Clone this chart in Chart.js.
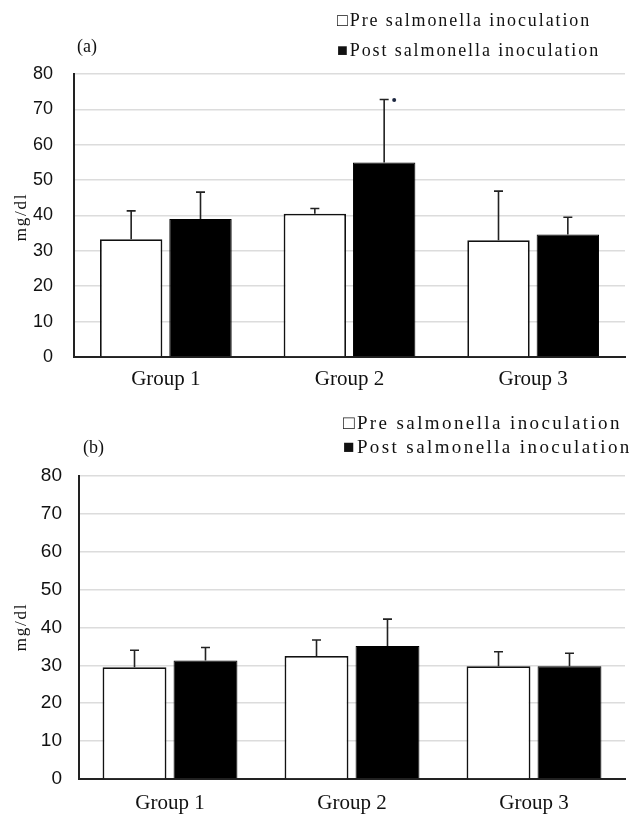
<!DOCTYPE html>
<html>
<head>
<meta charset="utf-8">
<script src="https://cdn.jsdelivr.net/npm/chart.js@4/dist/chart.umd.min.js"></script>
<style>
  html, body { margin: 0; padding: 0; background: #fff; }
  #wrap { position: relative; width: 641px; height: 815px; overflow: hidden; }
  canvas { position: absolute; left: 0; }
  .txt { position: absolute; font-family: 'Liberation Serif', 'DejaVu Serif', serif; color: #111; white-space: nowrap; }
  .legA { font-size: 18px; line-height: 22px; letter-spacing: 1.9px; }
  .legB { font-size: 19px; line-height: 23px; letter-spacing: 2.4px; }
  .panel { font-size: 18px; line-height: 22px; }
  .ytitle { font-size: 17px; line-height: 17px; letter-spacing: 1.8px; transform: translate(-50%, -50%) rotate(-90deg); }
</style>
</head>
<body>
<div id="wrap">
  <canvas id="chartA" width="641" height="400" style="top:0"></canvas>
  <canvas id="chartB" width="641" height="415" style="top:400px"></canvas>

  <div class="txt legA" style="left:337px; top:9px;">□Pre salmonella inoculation</div>
  <div class="txt legA" style="left:337px; top:39px;">■Post salmonella inoculation</div>
  <div class="txt panel" style="left:77px; top:35px;">(a)</div>
  <div class="txt ytitle" style="left:20px; top:217px;">mg/dl</div>

  <div class="txt legB" style="left:343px; top:411px;">□Pre salmonella inoculation</div>
  <div class="txt legB" style="left:343px; top:435px;">■Post salmonella inoculation</div>
  <div class="txt panel" style="left:83px; top:436px;">(b)</div>
  <div class="txt ytitle" style="left:20px; top:627px;">mg/dl</div>
</div>
<script>
// Groups and tick range
const groups = ['Group 1', 'Group 2', 'Group 3'];
const yTicks = [0, 10, 20, 30, 40, 50, 60, 70, 80];
const seriesNames = ['Pre salmonella inoculation', 'Post salmonella inoculation'];

// Panel (a): means and upper SD
const preA = [33.3, 40.5, 33.0];
const preA_sd = [8.0, 1.5, 13.9];
const postA = [39.0, 55.0, 34.6];
const postA_sd = [7.6, 17.8, 4.9];
const postA_sig = [false, true, false];

// Panel (b): means and upper SD
const preB = [29.5, 32.5, 29.8];
const preB_sd = [4.5, 4.2, 3.8];
const postB = [31.3, 35.1, 29.8];
const postB_sd = [3.4, 7.1, 3.4];
const postB_sig = [false, false, false];

// Upper whiskers with caps, plus a small marker for significant groups
const errorBars = {
  id: 'errorBars',
  afterDatasetsDraw(chart) {
    const ctx = chart.ctx;
    const y = chart.scales.y;
    chart.data.datasets.forEach((ds, i) => {
      const meta = chart.getDatasetMeta(i);
      meta.data.forEach((bar, j) => {
        const top = y.getPixelForValue(ds.data[j] + ds.sd[j]);
        ctx.save();
        ctx.strokeStyle = '#222';
        ctx.lineWidth = 1.6;
        ctx.beginPath();
        ctx.moveTo(bar.x, bar.y);
        ctx.lineTo(bar.x, top);
        ctx.moveTo(bar.x - 4.5, top);
        ctx.lineTo(bar.x + 4.5, top);
        ctx.stroke();
        if (ds.sig && ds.sig[j]) {
          ctx.fillStyle = '#1c2640';
          ctx.beginPath();
          ctx.arc(bar.x + 10, top + 0.5, 2, 0, Math.PI * 2);
          ctx.fill();
        }
        ctx.restore();
      });
    });
  }
};

function makeChart(id, pre, preSd, post, postSd, postSig, dims) {
  return new Chart(document.getElementById(id), {
    type: 'bar',
    data: {
      labels: groups,
      datasets: [
        { label: seriesNames[0], data: pre, sd: preSd,
          backgroundColor: '#ffffff', borderColor: '#111', borderWidth: 1.8,
          barPercentage: 0.9, categoryPercentage: dims.cat },
        { label: seriesNames[1], data: post, sd: postSd, sig: postSig,
          backgroundColor: '#000000', borderColor: '#000', borderWidth: 1,
          barPercentage: 0.9, categoryPercentage: dims.cat }
      ]
    },
    options: {
      responsive: false,
      animation: false,
      devicePixelRatio: 1,
      layout: { padding: { top: dims.top, right: 16, bottom: 0, left: 0 } },
      plugins: { legend: { display: false }, tooltip: { enabled: false } },
      scales: {
        x: {
          grid: { display: false, drawTicks: false },
          border: { display: true, color: '#222', width: 2 },
          ticks: { color: '#111', padding: dims.xpad,
                   font: { family: "'Liberation Serif', 'DejaVu Serif', serif", size: 21 } },
          afterFit: s => { s.height = dims.xh; }
        },
        y: {
          min: 0, max: 80,
          afterBuildTicks: s => { s.ticks = yTicks.map(v => ({ value: v })); },
          grid: { color: '#dcdcdc', lineWidth: 1.6, drawTicks: false },
          border: { display: true, color: '#222', width: 2 },
          ticks: { color: '#111', padding: dims.ypad,
                   font: { family: "'Liberation Sans', 'DejaVu Sans', sans-serif", size: dims.yfont } },
          afterFit: s => { s.width = dims.yw; }
        }
      }
    },
    plugins: [errorBars]
  });
}

makeChart('chartA', preA, preA_sd, postA, postA_sd, postA_sig,
  { top: 74, yw: 74, xh: 43, cat: 0.755, xpad: 10, ypad: 21, yfont: 18 });
makeChart('chartB', preB, preB_sd, postB, postB_sd, postB_sig,
  { top: 76, yw: 79, xh: 36, cat: 0.78, xpad: 12, ypad: 17, yfont: 19 });
</script>
</body>
</html>
